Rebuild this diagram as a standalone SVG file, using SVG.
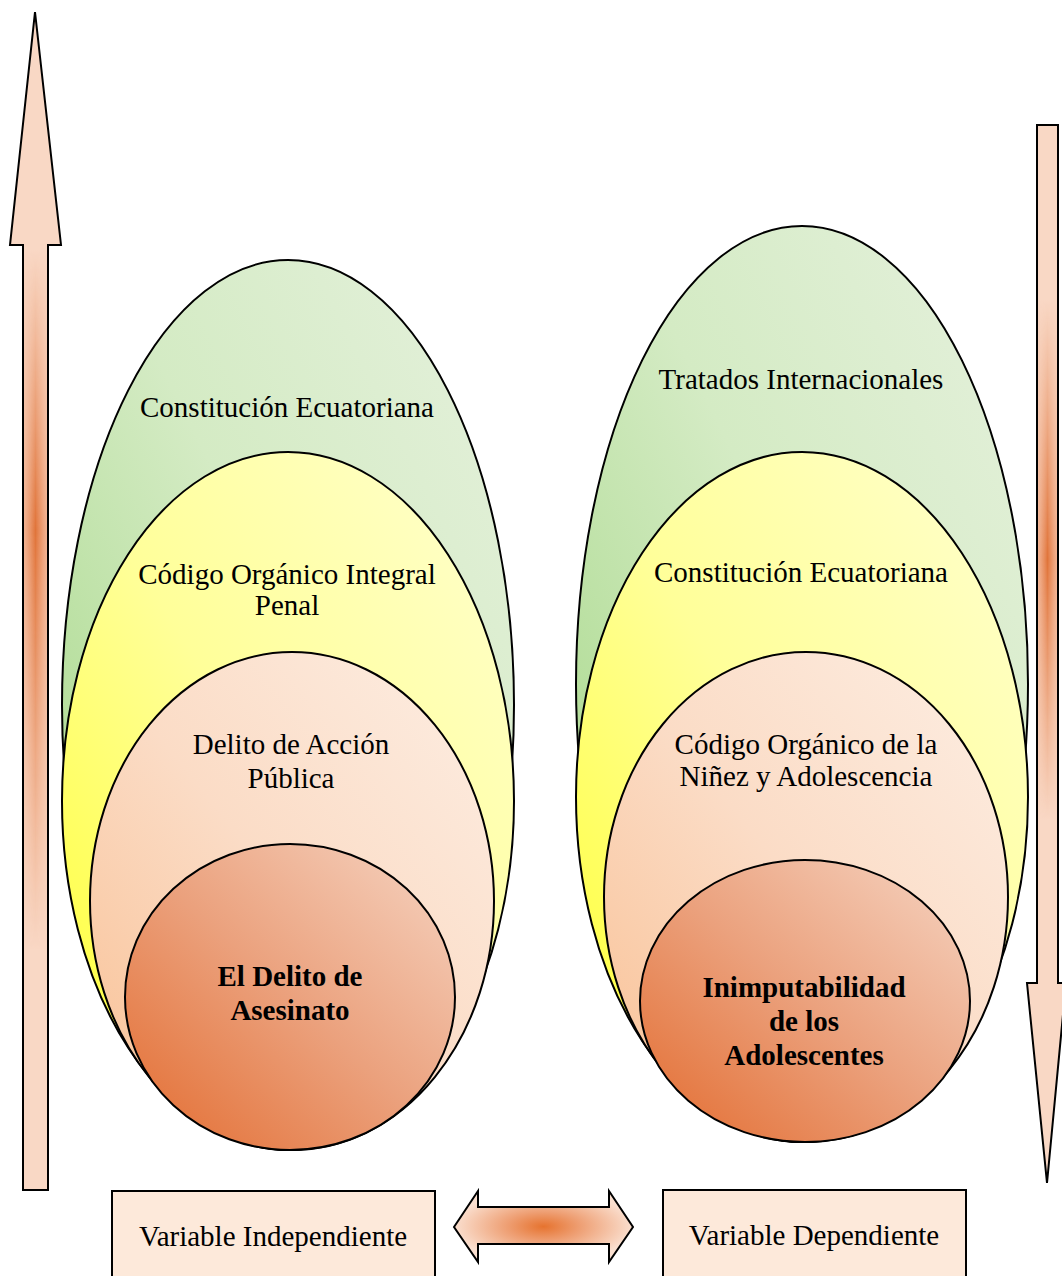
<svg xmlns="http://www.w3.org/2000/svg" width="1062" height="1276" viewBox="0 0 1062 1276">
<defs>
<linearGradient id="gGreen" x1="0" y1="1" x2="1" y2="0"><stop offset="0" stop-color="#9fd57e"/><stop offset="0.55" stop-color="#d4ebc4"/><stop offset="1" stop-color="#e6f1de"/></linearGradient>
<linearGradient id="gYellow" x1="0" y1="1" x2="1" y2="0"><stop offset="0" stop-color="#ffff30"/><stop offset="0.5" stop-color="#ffff99"/><stop offset="1" stop-color="#ffffd0"/></linearGradient>
<linearGradient id="gPeach" x1="0" y1="1" x2="1" y2="0"><stop offset="0" stop-color="#f9c093"/><stop offset="0.5" stop-color="#fbdcc6"/><stop offset="1" stop-color="#fdeee3"/></linearGradient>
<linearGradient id="gCore" x1="0" y1="1" x2="1" y2="0"><stop offset="0" stop-color="#e36b2e"/><stop offset="0.5" stop-color="#eba17d"/><stop offset="1" stop-color="#f6d5c3"/></linearGradient>
<linearGradient id="gStripe" x1="0" y1="0" x2="1" y2="0"><stop offset="0" stop-color="#f0a884" stop-opacity="0.7"/><stop offset="0.5" stop-color="#e0743a"/><stop offset="1" stop-color="#f0a884" stop-opacity="0.7"/></linearGradient>
<linearGradient id="mUpG" gradientUnits="userSpaceOnUse" x1="0" y1="250" x2="0" y2="950"><stop offset="0" stop-color="#000"/><stop offset="0.4" stop-color="#fff"/><stop offset="1" stop-color="#000"/></linearGradient>
<linearGradient id="mDownG" gradientUnits="userSpaceOnUse" x1="0" y1="300" x2="0" y2="820"><stop offset="0" stop-color="#000"/><stop offset="0.5" stop-color="#fff"/><stop offset="1" stop-color="#000"/></linearGradient>
<mask id="mUp" maskUnits="userSpaceOnUse" x="0" y="0" width="1062" height="1276"><rect x="0" y="0" width="100" height="1276" fill="url(#mUpG)"/></mask>
<mask id="mDown" maskUnits="userSpaceOnUse" x="0" y="0" width="1062" height="1276"><rect x="1000" y="0" width="62" height="1276" fill="url(#mDownG)"/></mask>
<radialGradient id="gArrowH" cx="0.5" cy="0.5" r="0.5"><stop offset="0" stop-color="#e6732f"/><stop offset="0.4" stop-color="#ee9e72"/><stop offset="1" stop-color="#fadfcf"/></radialGradient>
<style>
.sh{stroke:#000;stroke-width:2}
.t{font-family:"Liberation Serif","Times New Roman",serif;font-size:29px;fill:#000;text-anchor:middle}
.b{font-weight:bold}
.box{fill:#fde9da;stroke:#000;stroke-width:2}
.base{fill:#f9d8c5}
</style>
</defs>
<rect width="1062" height="1276" fill="#fff"/>

<g id="arrow-up">
<path class="base" d="M35,12 L61,245 L48,245 L48,1190 L23,1190 L23,245 L10,245 Z"/>
<rect x="23" y="245" width="25" height="945" fill="url(#gStripe)" mask="url(#mUp)"/>
<path class="sh" fill="none" d="M35,12 L61,245 L48,245 L48,1190 L23,1190 L23,245 L10,245 Z"/>
</g>
<g id="arrow-down">
<path class="base" d="M1037,125 L1058,125 L1058,983 L1066,983 L1047,1183 L1027,983 L1037,983 Z"/>
<rect x="1037" y="125" width="21" height="858" fill="url(#gStripe)" mask="url(#mDown)"/>
<path class="sh" fill="none" d="M1037,125 L1058,125 L1058,983 L1066,983 L1047,1183 L1027,983 L1037,983 Z"/>
</g>

<g id="left-outer">
<ellipse class="sh" cx="288" cy="705" rx="226" ry="445" fill="url(#gGreen)"/>
<text class="t" x="287" y="417">Constitución Ecuatoriana</text>
</g>
<g id="left-second">
<ellipse class="sh" cx="288" cy="801" rx="226" ry="349" fill="url(#gYellow)"/>
<text class="t" x="287" y="584">Código Orgánico Integral</text>
<text class="t" x="287" y="615">Penal</text>
</g>
<g id="left-third">
<ellipse class="sh" cx="292" cy="901" rx="202" ry="249" fill="url(#gPeach)"/>
<text class="t" x="291" y="754">Delito de Acción</text>
<text class="t" x="291" y="788">Pública</text>
</g>
<g id="left-core">
<ellipse class="sh" cx="290" cy="997" rx="165" ry="153" fill="url(#gCore)"/>
<text class="t b" x="290" y="986">El Delito de</text>
<text class="t b" x="290" y="1020">Asesinato</text>
</g>

<g id="right-outer">
<ellipse class="sh" cx="802" cy="684" rx="226" ry="458" fill="url(#gGreen)"/>
<text class="t" x="801" y="389">Tratados Internacionales</text>
</g>
<g id="right-second">
<ellipse class="sh" cx="802" cy="797" rx="226" ry="345" fill="url(#gYellow)"/>
<text class="t" x="801" y="582">Constitución Ecuatoriana</text>
</g>
<g id="right-third">
<ellipse class="sh" cx="806" cy="897" rx="202" ry="245" fill="url(#gPeach)"/>
<text class="t" x="806" y="754">Código Orgánico de la</text>
<text class="t" x="806" y="786">Niñez y Adolescencia</text>
</g>
<g id="right-core">
<ellipse class="sh" cx="805" cy="1001" rx="165" ry="141" fill="url(#gCore)"/>
<text class="t b" x="804" y="997">Inimputabilidad</text>
<text class="t b" x="804" y="1031">de los</text>
<text class="t b" x="804" y="1065">Adolescentes</text>
</g>

<g id="box-independiente">
<rect class="box" x="112" y="1191" width="323" height="95"/>
<text class="t" x="273" y="1246">Variable Independiente</text>
</g>
<g id="box-dependiente">
<rect class="box" x="663" y="1190" width="303" height="96"/>
<text class="t" x="814" y="1245">Variable Dependiente</text>
</g>

<g id="connectors">
<path class="sh" d="M454,1227 L478,1191 L478,1207 L609,1207 L609,1191 L633,1227 L609,1262 L609,1244 L478,1244 L478,1262 Z" fill="url(#gArrowH)"/>
</g>
</svg>
